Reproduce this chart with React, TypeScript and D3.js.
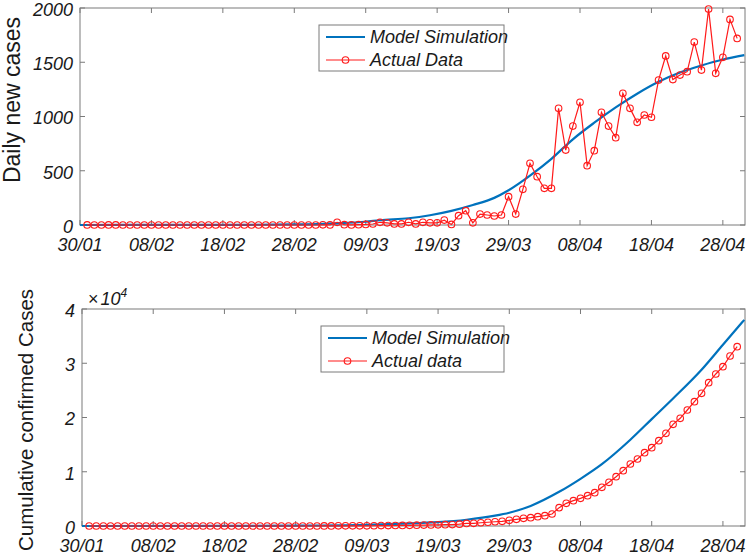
import React from 'react';
import * as d3 from 'd3';

// ---- data ----
const dateTicks = [0, 10, 20, 30, 40, 50, 60, 70, 80, 90];
const dateLabels = ['30/01', '08/02', '18/02', '28/02', '09/03', '19/03', '29/03', '08/04', '18/04', '28/04'];
const dailyTicks = [0, 500, 1000, 1500, 2000];
const dailyTickLabels = ['0', '500', '1000', '1500', '2000'];
const cumTicks = [0, 10000, 20000, 30000, 40000];
const cumTickLabels = ['0', '1', '2', '3', '4'];

const dailyActual = [
  1, 0, 0, 1, 1, 0, 0, 0, 0, 0,
  0, 0, 0, 0, 0, 0, 0, 0, 0, 0,
  0, 0, 0, 0, 0, 0, 0, 0, 0, 0,
  0, 0, 0, 2, 1, 25, 3, 1, 3, 5,
  9, 25, 20, 10, 10, 25, 10, 25, 20, 20,
  45, 5, 86, 132, 20, 101, 92, 83, 92, 261,
  101, 329, 568, 445, 338, 338, 1075, 691, 912, 1131,
  547, 685, 1039, 912, 805, 1214, 1075, 946, 1014, 993,
  1336, 1558, 1340, 1382, 1413, 1686, 1428, 1990, 1398, 1545,
  1895, 1720,
];

const cumActual = [
  1, 1, 1, 2, 3, 3, 3, 3, 3, 3,
  3, 3, 3, 3, 3, 3, 3, 3, 3, 3,
  3, 3, 3, 3, 3, 3, 3, 3, 3, 3,
  3, 3, 3, 5, 6, 28, 30, 31, 34, 40,
  50, 70, 85, 95, 110, 130, 145, 170, 190, 210,
  250, 260, 340, 470, 500, 600, 690, 780, 870, 1050,
  1230, 1410, 1530, 1720, 1900, 2210, 3380, 4180, 4670, 5100,
  5590, 6140, 7130, 8050, 9090, 10200, 11430, 12350, 13520, 14440,
  15730, 17080, 18740, 19850, 21380, 22920, 24450, 26420, 28020, 29370,
  31340, 33050,
];

const modelDailyDays = [0, 10, 20, 30, 36, 40, 42, 46, 49, 52, 55, 58, 60, 63, 66, 69, 72, 75, 78, 81, 84, 87, 90, 93];
const modelDaily = [0, 0.5, 1, 5, 15, 30, 44, 62, 90, 130, 184, 250, 320, 455, 610, 790, 943, 1084, 1210, 1320, 1405, 1470, 1525, 1565];

const modelCumDays = [0, 20, 30, 36, 40, 45, 50, 54, 58, 60, 63, 67, 70, 73, 77, 80, 83, 87, 90, 93];
const modelCum = [0, 15, 60, 120, 220, 420, 700, 1150, 1900, 2450, 3700, 6300, 8700, 11400, 15900, 19700, 23500, 28800, 33400, 38000];

const firstDay = 1;
const xMax = 93.1;

const BLUE = '#0072BD';
const RED = '#FF1A1A';
const AXIS = '#7a7a7a';
const FONT = '"Liberation Sans", Arial, Helvetica, sans-serif';

type PanelProps = {
  left: number; right: number; top: number; bottom: number;
  yMax: number; yTicks: number[]; yTickLabels: string[];
  actual: number[]; modelDays: number[]; model: number[];
  ylabel: string; labelSize: number; labelX: number; labelY: number;
  legendLabels: string[];
  legend: { x: number; y: number; w: number; h: number };
  exponent?: boolean;
};

function Panel(p: PanelProps) {
  const x = d3.scaleLinear().domain([0, xMax]).range([p.left, p.right]);
  const y = d3.scaleLinear().domain([0, p.yMax]).range([p.bottom, p.top]);
  const modelPts = p.modelDays.map((d, i) => [d, p.model[i]] as [number, number]);
  const actualPts = p.actual.map((v, i) => [firstDay + i, v] as [number, number]);
  const modelLine = d3.line<[number, number]>().x(d => x(d[0])).y(d => y(d[1])).curve(d3.curveMonotoneX);
  const actLine = d3.line<[number, number]>().x(d => x(d[0])).y(d => y(d[1]));
  const tickLen = 5;
  const L = p.legend;
  const TS = 18;
  return (
    <g>
      {dateTicks.map((t, i) => (
        <g key={'xt' + i}>
          <line x1={x(t)} x2={x(t)} y1={p.bottom} y2={p.bottom - tickLen} stroke={AXIS} strokeWidth={1} />
          <line x1={x(t)} x2={x(t)} y1={p.top} y2={p.top + tickLen} stroke={AXIS} strokeWidth={1} />
          <text x={x(t)} y={p.bottom + 26} textAnchor="middle" fontSize={TS} fontStyle="italic" fontFamily={FONT} fill="#1a1a1a">{dateLabels[i]}</text>
        </g>
      ))}
      {p.yTicks.map((t, i) => (
        <g key={'yt' + i}>
          <line x1={p.left} x2={p.left + tickLen} y1={y(t)} y2={y(t)} stroke={AXIS} strokeWidth={1} />
          <line x1={p.right} x2={p.right - tickLen} y1={y(t)} y2={y(t)} stroke={AXIS} strokeWidth={1} />
          <text x={p.left - 7} y={y(t)} dy="0.44em" textAnchor="end" fontSize={TS} fontStyle="italic" fontFamily={FONT} fill="#1a1a1a">{p.yTickLabels[i]}</text>
        </g>
      ))}
      <rect x={p.left} y={p.top} width={p.right - p.left} height={p.bottom - p.top} fill="none" stroke={AXIS} strokeWidth={1} />
      {p.exponent && (
        <text x={p.left + 6} y={p.top - 4} fontSize={TS} fontStyle="italic" fontFamily={FONT} fill="#1a1a1a">
          <tspan fontStyle="normal">×</tspan><tspan dx={2}>10</tspan><tspan dy={-8} fontSize={12}>4</tspan>
        </text>
      )}
      <text transform={`translate(${p.labelX},${p.labelY}) rotate(-90)`} textAnchor="middle" fontSize={p.labelSize} fontFamily={FONT} fill="#1a1a1a">{p.ylabel}</text>
      <path d={modelLine(modelPts) || ''} fill="none" stroke={BLUE} strokeWidth={2.2} />
      <path d={actLine(actualPts) || ''} fill="none" stroke={RED} strokeWidth={1.2} />
      {actualPts.map((d, i) => (
        <circle key={'c' + i} cx={x(d[0])} cy={y(d[1])} r={3.3} fill="none" stroke={RED} strokeWidth={1.1} />
      ))}
      <rect x={L.x} y={L.y} width={L.w} height={L.h} fill="#fff" stroke={AXIS} strokeWidth={1} />
      <line x1={L.x + 7} x2={L.x + 46} y1={L.y + 12} y2={L.y + 12} stroke={BLUE} strokeWidth={2.2} />
      <text x={L.x + 51} y={L.y + 12} dy="0.36em" fontSize={18} fontStyle="italic" fontFamily={FONT} fill="#1a1a1a">{p.legendLabels[0]}</text>
      <line x1={L.x + 7} x2={L.x + 46} y1={L.y + 35} y2={L.y + 35} stroke={RED} strokeWidth={1.2} />
      <circle cx={L.x + 26.5} cy={L.y + 35} r={3.3} fill="none" stroke={RED} strokeWidth={1.1} />
      <text x={L.x + 51} y={L.y + 35} dy="0.36em" fontSize={18} fontStyle="italic" fontFamily={FONT} fill="#1a1a1a">{p.legendLabels[1]}</text>
    </g>
  );
}

export default function App() {
  return (
    <svg width={748} height={556} style={{ position: 'absolute', left: 0, top: 0, background: '#fff' }}>
      <rect x={0} y={0} width={748} height={556} fill="#fff" />
      <Panel left={80} right={745} top={8} bottom={225} yMax={2000}
        yTicks={dailyTicks} yTickLabels={dailyTickLabels}
        actual={dailyActual} modelDays={modelDailyDays} model={modelDaily}
        ylabel="Daily new cases" labelSize={23} labelX={20} labelY={100}
        legendLabels={['Model Simulation', 'Actual Data']}
        legend={{ x: 319, y: 25, w: 185, h: 46 }} />
      <Panel left={82} right={745} top={309} bottom={526} yMax={40000}
        yTicks={cumTicks} yTickLabels={cumTickLabels}
        actual={cumActual} modelDays={modelCumDays} model={modelCum}
        ylabel="Cumulative confirmed Cases" labelSize={20.5} labelX={33} labelY={420}
        legendLabels={['Model Simulation', 'Actual data']}
        legend={{ x: 321, y: 326, w: 183, h: 46 }} exponent />
    </svg>
  );
}
